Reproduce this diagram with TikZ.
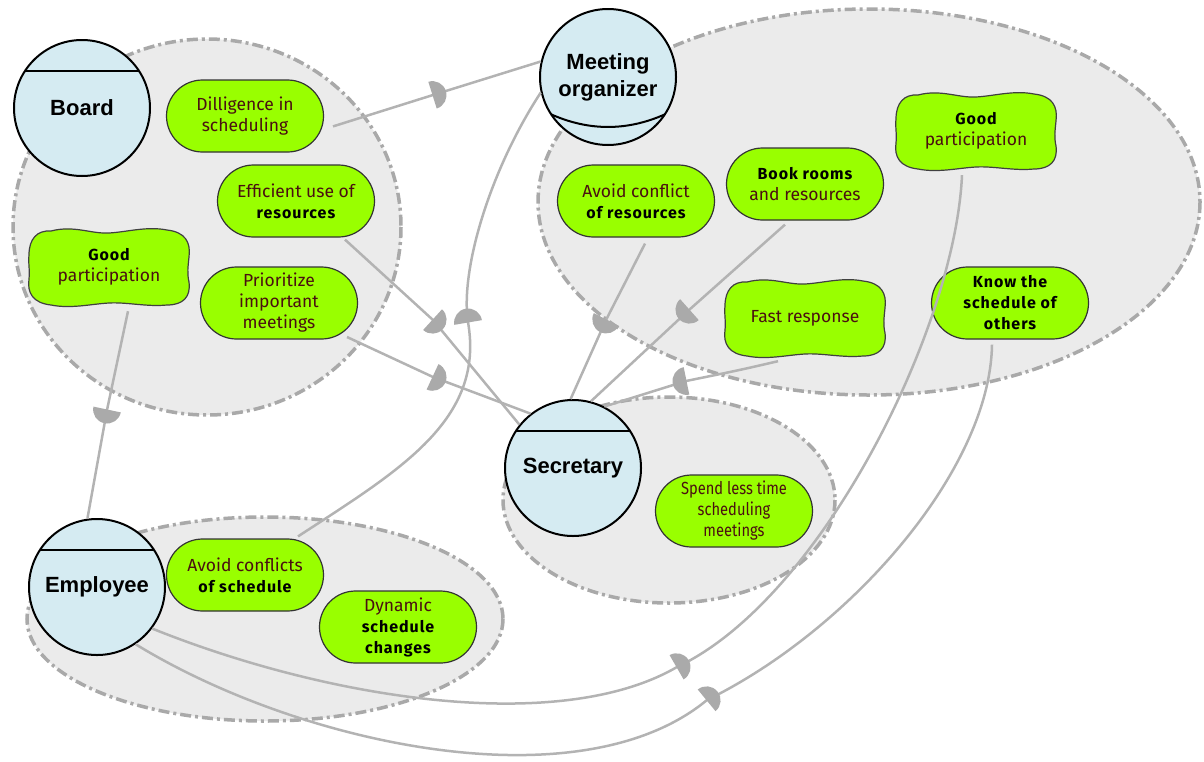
\documentclass[tikz,border=0pt]{standalone}
\usepackage{fontspec}
\setmainfont{Fira Sans}
\newfontfamily\actorfont{Liberation Sans}
\newfontfamily\gbfont[LetterSpace=6]{Fira Sans}
\newfontfamily\gcond[FakeStretch=0.84]{Fira Sans}
\usetikzlibrary{shapes.misc,decorations.markings,calc}
\definecolor{bnd}{HTML}{A9A9A9}
\definecolor{bndfill}{HTML}{EBEBEB}
\definecolor{actfill}{HTML}{D5EBF2}
\definecolor{goalfill}{HTML}{99FF00}
\definecolor{txt}{HTML}{4A1010}
\definecolor{linkc}{HTML}{B3B3B3}
\definecolor{markc}{HTML}{AAAAAA}
\newcommand\bw[1]{{\color{black}\gbfont\bfseries\fontsize{16}{21}\selectfont #1}}
\newcommand\sgcloud[1]{%
  \draw[sgline,shift={#1}] (-58,-36) .. controls (-35,-42) and (-18,-33) .. (0,-34)
    .. controls (18,-35) and (38,-41) .. (58,-37)
    .. controls (76,-35) and (82,-25) .. (80,-10)
    .. controls (79,0) and (78,6) .. (80,15)
    .. controls (82,30) and (74,38) .. (58,38)
    .. controls (38,40) and (18,35) .. (0,36)
    .. controls (-18,37) and (-38,42) .. (-58,38)
    .. controls (-76,36) and (-82,26) .. (-80,12)
    .. controls (-79,2) and (-81,-4) .. (-80,-12)
    .. controls (-80,-28) and (-72,-37) .. (-58,-36) -- cycle;}
\tikzset{
  boundary/.style={draw=bnd,fill=bndfill,line width=3.5pt,dash pattern=on 11pt off 4pt on 3pt off 4pt},
  actorbase/.style={circle,draw=black,line width=2pt,fill=actfill,minimum size=136pt,inner sep=0pt,
    align=center,font=\actorfont\bfseries\fontsize{22}{27}\selectfont},
  agent/.style={actorbase,path picture={\draw[line width=2pt]
      ([yshift=-31pt]path picture bounding box.north west) -- ([yshift=-31pt]path picture bounding box.north east);}},
  role/.style={actorbase,path picture={\draw[line width=2pt]
      ([shift={(-80pt,-25pt)}]path picture bounding box.center) .. controls
      ([shift={(-26.7pt,-58.3pt)}]path picture bounding box.center) and
      ([shift={(26.7pt,-58.3pt)}]path picture bounding box.center) ..
      ([shift={(80pt,-25pt)}]path picture bounding box.center);}},
  goal/.style={rounded rectangle,draw=black!80,line width=1.2pt,fill=goalfill,minimum width=157pt,
    minimum height=72pt,inner sep=0pt,align=center,text=txt,font=\fontsize{17.5}{21}\selectfont},
  sgline/.style={draw=black!75,line width=1.2pt,fill=goalfill},
  soft/.style={minimum width=160pt,minimum height=76pt,inner sep=0pt,align=center,text=txt,
    font=\fontsize{17.5}{21}\selectfont},
  dep/.style={draw=linkc,line width=2.5pt},
  dm/.style={postaction={decorate},decoration={markings,mark=at position -0.5pt with
      {\fill[markc] (0,14pt) arc[start angle=90,end angle=-90,radius=14pt] -- cycle;}}}
}
\begin{document}
\begin{tikzpicture}[x=1pt,y=-1pt]
\useasboundingbox (0,0) rectangle (1204,761);
% boundaries
\path[boundary] (207,227) ellipse [x radius=194, y radius=188];
\path[boundary] (869,202) ellipse [x radius=331, y radius=193];
\path[boundary] (669,500) ellipse [x radius=166, y radius=103];
\path[boundary] (265,619) ellipse [x radius=238, y radius=102];
% softgoal outlines
\sgcloud{(109,267)}
\sgcloud{(976,131)}
\sgcloud{(805,318)}
% goal nodes
\node[goal] (dil) at (245,116) {Dilligence in\\scheduling};
\node[goal] (eff) at (296,201) {Efficient use of\\\bw{resources}};
\node[soft] (gpb) at (109,267) {\bw{Good}\\participation};
\node[goal] (pri) at (279,303) {Prioritize\\important\\meetings};
\node[goal] (acr) at (636,201) {Avoid conflict\\\bw{of resources}};
\node[goal] (book) at (805,184) {\bw{Book rooms}\\and resources};
\node[soft] (gpm) at (976,131) {\bw{Good}\\participation};
\node[soft] (fast) at (805,318) {Fast response};
\node[goal] (kso) at (1010,303) {\bw{Know the}\\\bw{schedule of}\\\bw{others}};
\node[goal,font=\gcond\fontsize{17.5}{21}\selectfont] (spend) at (734,511) {Spend less time\\scheduling\\meetings};
\node[goal] (acs) at (245,575) {Avoid conflicts\\\bw{of schedule}};
\node[goal] (dyn) at (398,627) {Dynamic\\\bw{schedule}\\\bw{changes}};
% actors
\node[agent] (board) at (82,108) {Board};
\node[role] (mo) at (608,77) {Meeting\\organizer};
\node[agent] (sec) at (573,468) {Secretary};
\node[agent] (emp) at (97,587) {Employee};
% marker points
\coordinate (m1) at (433,95);
\coordinate (m2) at (433,320);
\coordinate (m3) at (433,377);
\coordinate (m4) at (606,320);
\coordinate (m5) at (689,310);
\coordinate (m6) at (686,381);
\coordinate (m7) at (107,410);
\coordinate (m8) at (468,322);
\coordinate (m9) at (677,667);
\coordinate (m10) at (707,700);
% dependencies
\draw[dep] (m1) -- (mo.167);
\draw[dep,dm,shorten <=2pt] ([shift={(7,11)}]dil.east) -- (m1);
\draw[dep] (m2) -- (sec.141);
\draw[dep,dm] ([shift={(49,2)}]eff.south) -- (m2);
\draw[dep] (m3) -- (sec.128);
\draw[dep,dm] ([shift={(68,34)}]pri.center) -- (m3);
\draw[dep] (m4) -- (sec.92);
\draw[dep,dm] ([shift={(9,6)}]acr.south) -- (m4);
\draw[dep] (m5) -- (sec.75);
\draw[dep,dm] ([shift={(-20,4)}]book.south) -- (m5);
\draw[dep] (m6) -- (sec.63);
\draw[dep,dm] ([shift={(-27,5)}]fast.south) .. controls (740,370) .. (m6);
\draw[dep] (m7) -- (emp.98);
\draw[dep,dm] ([shift={(19,6)}]gpb.south) -- (m7);
\draw[dep] (m8) .. controls (460,270) and (490,170) .. (mo.193);
\draw[dep,dm] ([shift={(53,-2)}]acs.north) .. controls (400,470) and (485,420) .. (m8);
\draw[dep] (m9) .. controls (820,600) and (955,330) .. ([shift={(-14,6)}]gpm.south);
\draw[dep,dm] (emp.-37) .. controls (330,700) and (560,735) .. (m9);
\draw[dep] (m10) .. controls (850,630) and (990,470) .. ([shift={(-18,5)}]kso.south);
\draw[dep,dm] (emp.-56) .. controls (300,745) and (580,805) .. (m10);
\end{tikzpicture}
\end{document}
